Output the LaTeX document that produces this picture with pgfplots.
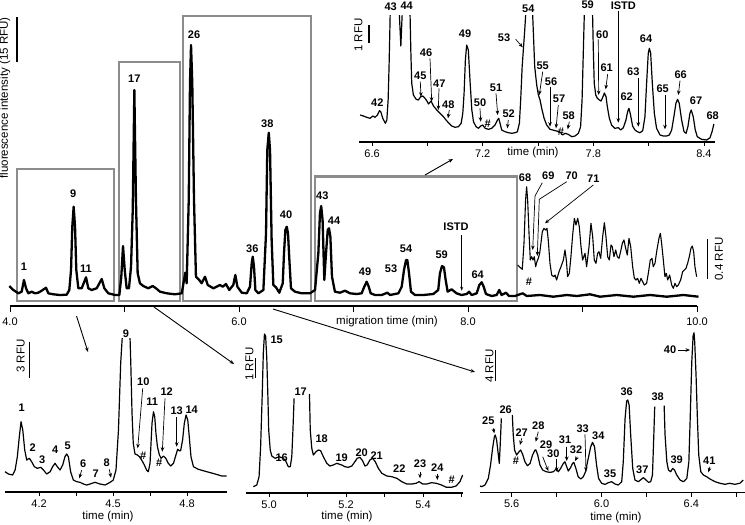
\documentclass[border=0pt]{standalone}
\usepackage{fontspec}
\setmainfont{Liberation Sans}
\usepackage{pgfplots}
\pgfplotsset{compat=1.18}
\usetikzlibrary{arrows.meta}
\definecolor{boxgray}{RGB}{140,140,140}
\tikzset{
  lab/.style={font=\fontsize{11}{12}\selectfont\bfseries, inner sep=0pt},
  txt/.style={font=\fontsize{11.5}{13}\selectfont, inner sep=0pt},
  ar/.style={-{Stealth[length=4.5pt,width=3.6pt]}, line width=0.7pt},
  bar/.style={line width=1.1pt},
}
\pgfplotsset{
  every axis/.append style={
    scale only axis, axis y line=none, axis x line*=bottom,
    x axis line style={-, line width=1.1pt},
    tick style={black, line width=0.8pt},
    tick align=outside,
    major tick length=4pt, minor tick length=4pt,
    xticklabel style={font=\fontsize{11}{12}\selectfont},
    clip=false,
  },
  trace/.style={black, line width=1.2pt, line join=round, no markers},
}
\begin{document}
\begin{tikzpicture}
\useasboundingbox (0pt,0pt) rectangle (745pt,-525pt);
% gray boxes
\begin{scope}[x=1pt,y=-1pt]
\draw[boxgray, line width=2.2pt] (17,169) rectangle (114,301);
\draw[boxgray, line width=2.2pt] (119,62) rectangle (180,301);
\draw[boxgray, line width=2.2pt] (183,16) rectangle (311,301);
\draw[boxgray, line width=2.2pt] (315,176.5) rectangle (517,301);
\end{scope}

% ===== main electropherogram =====
\begin{axis}[at={(10pt,-306pt)}, anchor=south west, width=687pt, height=300pt,
  xmin=4, xmax=10, ymin=0, ymax=300,
  x axis line style={-, line width=1.8pt}, major tick length=6pt,
  xtick={4,5,6,7,8,9,10}, xticklabels={4.0,,6.0,,8.0,,10.0},
  xticklabel style={yshift=-2pt}]
\addplot[trace, line width=2.3pt] coordinates {
(3.994,20) (4.029,16) (4.073,12.7) (4.102,14.3) (4.122,26) (4.140,17.7) (4.160,12.7) (4.189,14.3) (4.218,12.7) (4.247,13.3) (4.277,15.3) (4.314,18.3) (4.335,12.7) (4.378,11.7) (4.437,11) (4.495,11.3) (4.518,16) (4.533,36) (4.544,79.3) (4.556,99.3) (4.568,79.3) (4.579,36) (4.597,17.7) (4.626,17.7) (4.664,28.7) (4.684,17.7) (4.713,16) (4.757,17.7) (4.801,27) (4.824,17.7) (4.859,12.7) (4.917,11) (4.955,11) (4.972,29.3) (4.987,60) (5.002,36) (5.019,17.7) (5.039,17.7) (5.057,39.3) (5.072,96) (5.086,216) (5.100,106) (5.115,32.7) (5.135,22.7) (5.164,20) (5.208,17.7) (5.246,20) (5.275,17.7) (5.310,14.3) (5.369,12.7) (5.441,11.7) (5.500,12.7) (5.520,26) (5.531,33.3) (5.543,22.7) (5.561,106) (5.572,222.7) (5.581,261) (5.592,222.7) (5.607,106) (5.624,29.3) (5.653,26) (5.674,22.7) (5.703,29.3) (5.727,21) (5.776,17.7) (5.834,21) (5.858,19.3) (5.886,22) (5.915,16) (5.950,21) (5.968,31) (5.986,19.3) (6.024,13.3) (6.068,12.7) (6.096,19.3) (6.111,42.7) (6.120,49.3) (6.131,39.3) (6.143,16) (6.169,12.7) (6.213,16) (6.236,72.7) (6.247,156) (6.260,173.3) (6.271,156) (6.285,66) (6.300,21) (6.323,18.7) (6.352,13.3) (6.382,22.7) (6.393,52.7) (6.405,76) (6.417,79.3) (6.428,72.7) (6.440,46) (6.454,17.7) (6.489,14.3) (6.547,12.7) (6.620,12.7) (6.664,16) (6.693,52.7) (6.707,92.7) (6.718,100) (6.730,86) (6.745,26) (6.760,52.7) (6.775,76) (6.786,77.7) (6.798,69.3) (6.812,29.3) (6.838,14.3) (6.882,13.3) (6.926,15.3) (6.969,12.7) (7.027,12) (7.071,12.7) (7.094,19.3) (7.115,24.3) (7.133,19.3) (7.150,12.7) (7.188,11) (7.246,11) (7.296,13.3) (7.319,11) (7.392,12.7) (7.421,19.3) (7.441,36) (7.459,46) (7.470,46) (7.485,32.7) (7.502,14.3) (7.537,11) (7.610,11) (7.697,12) (7.740,16) (7.755,32.7) (7.773,40) (7.790,38.7) (7.805,26) (7.822,14.3) (7.857,16.7) (7.900,12.7) (7.944,11) (7.988,12) (8.009,14.3) (8.032,11) (8.076,12.7) (8.099,21) (8.120,23.7) (8.137,19.3) (8.157,12) (8.207,10) (8.250,11) (8.273,16) (8.293,11) (8.332,13.3) (8.358,10) (8.410,10) (8.478,12.7) (8.513,10) (8.629,11) (8.745,9.3) (8.862,11) (8.950,10) (9.066,11.7) (9.153,9.3) (9.299,11) (9.445,9.3) (9.590,11) (9.736,9.3) (9.882,11) (10.013,9.3)
};
% magnified late region (0.4 RFU)
\addplot[trace, line width=1.1pt] coordinates {
(8.434,41) (8.454,38.7) (8.474,36.7) (8.489,62.7) (8.503,106) (8.512,119.3) (8.521,106) (8.533,72.7) (8.544,46) (8.556,49.3) (8.568,46) (8.579,49.3) (8.591,39.3) (8.602,44.3) (8.614,47.7) (8.626,52.7) (8.637,62.7) (8.649,74.3) (8.664,77.7) (8.678,76) (8.690,77.7) (8.701,66) (8.716,42.7) (8.731,31) (8.748,29.3) (8.760,31) (8.774,26) (8.795,34.3) (8.812,39.3) (8.833,46) (8.847,56) (8.859,46) (8.870,29.3) (8.885,32.7) (8.899,49.3) (8.914,71) (8.929,87.7) (8.943,81) (8.958,87.7) (8.972,79.3) (8.987,59.3) (9.001,46) (9.022,52.7) (9.036,39.3) (9.057,59.3) (9.074,82.7) (9.089,69.3) (9.103,46) (9.118,42.7) (9.132,52.7) (9.144,54.3) (9.159,47.7) (9.176,69.3) (9.191,83.3) (9.205,69.3) (9.220,49.3) (9.234,46) (9.249,61) (9.260,59.3) (9.275,49.3) (9.290,56) (9.304,49.3) (9.319,47.7) (9.336,56) (9.348,62.7) (9.362,66) (9.377,57.7) (9.391,51) (9.406,67.7) (9.421,59.3) (9.438,39.3) (9.453,27.7) (9.467,26) (9.482,27.7) (9.496,22.7) (9.511,27.7) (9.525,24.3) (9.540,21) (9.560,22.7) (9.575,32.7) (9.592,46) (9.607,47.7) (9.618,39.3) (9.633,42.7) (9.650,56) (9.668,67.7) (9.680,72.7) (9.691,62.7) (9.706,46) (9.720,29.3) (9.732,32.7) (9.744,26) (9.761,31) (9.779,21) (9.793,17.7) (9.808,22.7) (9.822,19.3) (9.837,21) (9.857,26) (9.875,34.3) (9.889,36) (9.904,37.7) (9.918,42.7) (9.933,49.3) (9.947,57.7) (9.959,60) (9.971,54.3) (9.982,39.3) (9.997,29.3)
};
\end{axis}

% ===== top inset 6.6-8.4 =====
\begin{axis}[at={(359pt,-142pt)}, anchor=south west, width=356pt, height=127pt,
  xmin=6.529, xmax=8.46, ymin=0, ymax=127, clip=true,
  xtick={6.6,7.2,7.8,8.4}, xticklabels={6.6,7.2,7.8,8.4},
  minor xtick={6.9,7.5,8.1}]
\addplot[trace] coordinates {
(6.535,27) (6.553,26) (6.571,24.7) (6.589,23.7) (6.604,26) (6.616,24.7) (6.629,27) (6.640,31.3) (6.647,30.3) (6.658,23.7) (6.672,18.7) (6.680,22) (6.687,42) (6.692,75.3) (6.696,108.7) (6.698,127) (6.712,250) (6.735,190) (6.748,127) (6.756,96) (6.763,127) (6.785,230) (6.800,180) (6.806,127) (6.810,92) (6.815,58.7) (6.824,47) (6.839,42.7) (6.851,42) (6.864,45.3) (6.875,46) (6.887,43.7) (6.900,40.3) (6.906,38) (6.920,41) (6.933,36) (6.951,32) (6.969,28.7) (6.987,25.3) (7.001,22) (7.014,19.3) (7.032,16) (7.050,14.7) (7.068,15.3) (7.083,18.7) (7.092,28.7) (7.099,48.7) (7.106,82) (7.113,97) (7.122,92) (7.132,58.7) (7.141,32) (7.150,20.3) (7.164,15.3) (7.177,13.7) (7.189,16) (7.200,17) (7.213,13.7) (7.231,12.7) (7.249,13.7) (7.267,17) (7.280,22) (7.287,23.7) (7.294,18.7) (7.303,12) (7.321,10.3) (7.339,9.3) (7.357,8.7) (7.376,9.3) (7.388,10.3) (7.399,18.7) (7.406,42) (7.414,75.3) (7.421,93.7) (7.428,112) (7.433,127) (7.452,230) (7.471,127) (7.475,108.7) (7.482,75.3) (7.493,57) (7.502,47) (7.511,42) (7.520,33.7) (7.533,23.7) (7.547,17) (7.565,12.7) (7.601,11) (7.619,10) (7.634,7) (7.646,8.7) (7.664,7.7) (7.683,5.3) (7.701,6) (7.719,8.7) (7.731,15.3) (7.739,42) (7.746,92) (7.751,127) (7.773,240) (7.796,127) (7.800,92) (7.805,58.7) (7.813,47) (7.822,43.7) (7.833,42) (7.842,41) (7.851,44.7) (7.860,49) (7.869,45.3) (7.876,35.3) (7.887,23.7) (7.899,17) (7.917,13.7) (7.936,14.3) (7.948,12) (7.963,14.3) (7.977,22) (7.986,30.3) (7.993,33.7) (8.002,27) (8.013,16) (8.026,12) (8.039,10.3) (8.053,9.3) (8.068,11.3) (8.080,25.3) (8.089,58.7) (8.098,88.7) (8.104,93.7) (8.111,88.7) (8.120,58.7) (8.131,28.7) (8.143,13.7) (8.162,7) (8.180,6) (8.198,6) (8.212,7) (8.225,12) (8.237,25.3) (8.248,38.7) (8.257,42.7) (8.266,38.7) (8.279,22) (8.292,10.3) (8.303,8.7) (8.313,15.3) (8.324,28.7) (8.331,32) (8.342,25.3) (8.353,12) (8.364,5.3) (8.387,2.7) (8.415,2) (8.433,4.3) (8.444,10.3) (8.454,18)
};
\end{axis}

% ===== bottom inset 1 =====
\begin{axis}[at={(5pt,-492pt)}, anchor=south west, width=222pt, height=154pt,
  xmin=4.062, xmax=4.962, ymin=0, ymax=154, clip=true,
  xtick={4.2,4.5,4.8}, xticklabels={4.2,4.5,4.8}, minor xtick={4.35,4.65}]
\addplot[trace] coordinates {
(4.062,20.3) (4.076,18) (4.093,17) (4.103,22) (4.112,35.3) (4.120,55.3) (4.127,70.3) (4.134,62) (4.142,42) (4.150,32) (4.161,33.7) (4.170,30.3) (4.181,25.3) (4.193,23.7) (4.207,24.7) (4.218,22) (4.231,18) (4.245,20.3) (4.255,25.3) (4.265,28.7) (4.274,25.3) (4.285,22) (4.296,27) (4.305,35.3) (4.312,38) (4.319,35.3) (4.328,20.3) (4.339,12) (4.353,10.3) (4.366,9.7) (4.380,8) (4.393,7) (4.407,8) (4.427,9.7) (4.447,8) (4.468,7) (4.481,8.7) (4.492,10.3) (4.501,12) (4.512,22) (4.522,62) (4.531,128.7) (4.541,170) (4.554,260) (4.567,170) (4.572,128.7) (4.577,78.7) (4.582,48.7) (4.589,38) (4.599,37) (4.607,35.3) (4.616,32) (4.627,27) (4.636,22) (4.643,20.3) (4.650,28.7) (4.654,48.7) (4.658,68.7) (4.664,80.3) (4.669,75.3) (4.674,58.7) (4.680,45.3) (4.688,37) (4.695,33.7) (4.704,36) (4.714,33.7) (4.724,28.7) (4.734,26) (4.745,28.7) (4.755,37) (4.762,42.7) (4.769,41.3) (4.774,41.3) (4.782,52) (4.789,68.7) (4.796,77) (4.803,72) (4.809,55.3) (4.816,35.3) (4.826,25.3) (4.846,22.7) (4.880,20.3) (4.914,18) (4.941,16) (4.961,16)
};
\end{axis}

% ===== bottom inset 2 =====
\begin{axis}[at={(246pt,-493pt)}, anchor=south west, width=217pt, height=165pt,
  xmin=4.940, xmax=5.504, ymin=0, ymax=165,
  xtick={5.0,5.2,5.4}, xticklabels={5.0,5.2,5.4}, minor xtick={5.1,5.3,5.5}]
\addplot[trace] coordinates {
(4.959,6.3) (4.968,8) (4.974,16.3) (4.978,46.3) (4.982,96.3) (4.985,140) (4.988,159) (4.991,157) (4.994,135) (4.997,95) (4.999,63) (5.003,43) (5.007,37) (5.016,34.7) (5.026,36.3) (5.033,35.3) (5.042,33) (5.050,26.3) (5.055,26.3) (5.059,36.3) (5.062,63) (5.065,94.7)
};
\addplot[trace] coordinates {
(5.105,99) (5.107,63) (5.111,44.7) (5.115,38) (5.122,41.3) (5.128,43) (5.134,42.3) (5.141,36.3) (5.150,29.7) (5.158,27) (5.167,28) (5.176,29.7) (5.189,28) (5.197,26.3) (5.206,25.7) (5.215,27) (5.223,31.3) (5.229,34.7) (5.236,35.7) (5.243,32.3) (5.249,27) (5.255,28) (5.262,33) (5.269,34.7) (5.276,31.3) (5.284,24.7) (5.293,19.7) (5.306,17) (5.319,16.3) (5.332,14.7) (5.345,11.3) (5.358,9) (5.371,9) (5.382,9.7) (5.390,11.3) (5.399,9) (5.410,9) (5.422,10.3) (5.435,9.7) (5.448,8) (5.461,5.7) (5.474,5.7) (5.486,7) (5.496,11.3) (5.503,18)
};
\end{axis}

% ===== bottom inset 3 =====
\begin{axis}[at={(480pt,-492.7pt)}, anchor=south west, width=265pt, height=165pt,
  xmin=5.459, xmax=6.639, ymin=0, ymax=165,
  xtick={5.6,6.0,6.4}, xticklabels={5.6,6.0,6.4}, minor xtick={5.8,6.2,6.6}]
\addplot[trace] coordinates {
(5.459,6.7) (5.466,6) (5.481,7.7) (5.496,14.3) (5.506,27.7) (5.515,44.3) (5.523,56) (5.527,57.7) (5.533,52.7) (5.539,41) (5.545,29.3) (5.549,47.7) (5.554,74.3)
};
\addplot[trace] coordinates {
(5.603,77.7) (5.607,57.7) (5.613,42.7) (5.622,37.7) (5.633,41) (5.640,42.7) (5.649,38.3) (5.659,31) (5.670,27) (5.682,29.3) (5.693,37.7) (5.704,42.7) (5.708,42.7) (5.716,37.7) (5.726,27.7) (5.738,22.7) (5.753,21) (5.771,20.3) (5.786,21) (5.798,23.7) (5.808,21) (5.818,24.3) (5.830,29.3) (5.837,31) (5.845,26) (5.852,21.7) (5.862,25) (5.871,29.3) (5.877,30.3) (5.886,24.3) (5.896,16) (5.908,13.7) (5.919,16) (5.929,21) (5.941,34.3) (5.952,46) (5.960,50.3) (5.969,46) (5.978,27.7) (5.987,14.3) (6.001,9.3) (6.016,8.3) (6.030,10) (6.045,11) (6.060,8.7) (6.075,7.7) (6.090,11) (6.097,31) (6.105,74.4) (6.112,91.7) (6.117,92.7) (6.123,87.7) (6.130,57.7) (6.139,24.4) (6.149,12.7) (6.164,11) (6.179,13.7) (6.186,15) (6.194,13.7) (6.209,10.4) (6.219,11) (6.227,17.7) (6.233,57.7) (6.237,86)
};
\addplot[trace] coordinates {
(6.279,87) (6.283,57.7) (6.291,31) (6.298,22.7) (6.308,21) (6.317,24.3) (6.325,22.7) (6.335,17.7) (6.350,12.7) (6.365,11) (6.380,14.4) (6.389,31) (6.395,74.4) (6.402,131) (6.408,157) (6.412,160) (6.415,151) (6.421,117.7) (6.427,74.4) (6.433,37.7) (6.442,21) (6.454,17.7) (6.468,16) (6.483,13.7) (6.506,11) (6.528,9.4) (6.550,8.4) (6.571,9.4) (6.594,8.4) (6.616,9.4) (6.631,12.7)
};
\end{axis}

% ===== annotations =====
\begin{scope}[x=1pt,y=-1pt]
% y label and main scale bar
\node[txt, rotate=90] at (5,98) {fluorescence intensity (15 RFU)};
\draw[bar] (17,17) -- (17,62);
\node[txt] at (387,322) {migration time (min)};
% main labels
\node[lab] at (24,266.7) {1};
\node[lab] at (73.3,193.3) {9};
\node[lab] at (86,268.3) {11};
\node[lab] at (134.3,78.3) {17};
\node[lab] at (194,34.7) {26};
\node[lab] at (252.3,248.3) {36};
\node[lab] at (267.3,123.3) {38};
\node[lab] at (286,215) {40};
\node[lab] at (322.3,195.7) {43};
\node[lab] at (334,220.7) {44};
\node[lab] at (365,272) {49};
\node[lab] at (391,269) {53};
\node[lab] at (406,248.3) {54};
\node[lab] at (441.7,255) {59};
\node[lab] at (456,226.7) {ISTD};
\draw[line width=0.7pt, -{Stealth[length=4pt,width=3pt]}] (461.7,235) -- (461.7,290.7);
\node[lab] at (477.7,275) {64};
\node[lab] at (525,177.3) {68};
\node[lab] at (548.3,176) {69};
\node[lab] at (571.7,176) {70};
\node[lab] at (593.3,178.3) {71};
\node[lab] at (529,281.7) {\#};
\draw[ar] (542.3,182.7) -- (535,196) -- (532.7,250);
\draw[ar] (566.7,181.7) -- (539.3,199.3) -- (537.3,256);
\draw[ar] (593.3,185) -- (545,223.3);
\draw[bar] (707.7,239) -- (707.7,279);
\node[txt, rotate=90] at (719,259) {0.4 RFU};
% panel arrows
\draw[ar, line width=0.9pt] (76.5,316) -- (88,352);
\draw[ar, line width=0.9pt] (154,307) -- (234,364);
\draw[ar, line width=0.9pt] (273,309) -- (475,372);
\draw[ar, line width=0.9pt] (425,175) -- (453,159);
% top inset
\node[txt] at (533,153) {time (min)};
\draw[bar] (369,25) -- (369,43);
\node[txt, rotate=90] at (358.5,35) {1 RFU};
\node[lab] at (390.7,6.7) {43};
\node[lab] at (406.7,6) {44};
\node[lab] at (377.3,102.7) {42};
\node[lab] at (465,33.3) {49};
\node[lab] at (426,52.7) {46};
\node[lab] at (420.3,76) {45};
\node[lab] at (439.3,83.3) {47};
\node[lab] at (448.3,104.3) {48};
\node[lab] at (480,102.7) {50};
\node[lab] at (487.7,124) {\#};
\node[lab] at (496,87.7) {51};
\node[lab] at (508.7,114) {52};
\node[lab] at (504,37.3) {53};
\node[lab] at (528.3,8.3) {54};
\node[lab] at (542.7,66) {55};
\node[lab] at (551,82) {56};
\node[lab] at (559,99) {57};
\node[lab] at (568.7,116) {58};
\node[lab] at (561,131.7) {\#};
\node[lab] at (587.7,4.7) {59};
\node[lab] at (623.3,6) {ISTD};
\node[lab] at (602.3,34.3) {60};
\node[lab] at (606.7,67.7) {61};
\node[lab] at (646,39) {64};
\node[lab] at (633.3,71.7) {63};
\node[lab] at (626.7,96.7) {62};
\node[lab] at (662.7,88.7) {65};
\node[lab] at (680.7,75) {66};
\node[lab] at (696,100.7) {67};
\node[lab] at (712.7,116) {68};
\draw[ar] (420.3,81.7) -- (421,96.7);
\draw[ar] (430,58.3) -- (431.7,101.7);
\draw[ar] (439,88.3) -- (438.3,110);
\draw[ar] (449.3,110) -- (448,118.3);
\draw[ar] (480,108.3) -- (480.7,121.7);
\draw[ar] (496,93.3) -- (497.7,115);
\draw[ar] (508.3,120) -- (507.3,128.3);
\draw[ar] (515.7,39.3) -- (522.7,47.3);
\draw[ar] (542.7,71.7) -- (539.3,95);
\draw[ar] (550,87.3) -- (550,126.7);
\draw[ar] (558.3,105) -- (556,128.3);
\draw[ar] (569.3,121.7) -- (567.7,129.3);
\draw[ar] (598.3,39.3) -- (598.7,95);
\draw[ar] (607.7,74) -- (605.7,89.3);
\draw[ar] (618.3,10.7) -- (618.3,122.7);
\draw[ar] (638.3,78.3) -- (638.3,126.7);
\draw[ar] (665,95) -- (665,129.3);
\draw[ar] (680,80.7) -- (678.3,95);
% inset 1
\node[txt] at (108,517) {time (min)};
\draw[bar] (29.3,341.7) -- (29.3,378.3);
\node[txt, rotate=90] at (20.7,356) {3 RFU};
\node[lab] at (21.7,407.3) {1};
\node[lab] at (32.7,447.3) {2};
\node[lab] at (42.3,459.3) {3};
\node[lab] at (55.3,449.3) {4};
\node[lab] at (67.7,446) {5};
\node[lab] at (83.3,463.3) {6};
\node[lab] at (95.7,473.3) {7};
\node[lab] at (106.7,462.7) {8};
\node[lab] at (126,333.3) {9};
\node[lab] at (143.3,381.7) {10};
\node[lab] at (152.3,401.7) {11};
\node[lab] at (166.7,391.7) {12};
\node[lab] at (176.7,411) {13};
\node[lab] at (191.7,409.3) {14};
\node[lab] at (143.3,456) {\#};
\node[lab] at (159.3,462.7) {\#};
\draw[ar] (81.7,470) -- (79.3,478.3);
\draw[ar] (109.3,469.3) -- (111,477.7);
\draw[ar] (142.7,388.3) -- (137.7,448.3);
\draw[ar] (165,398.3) -- (162.3,451.7);
\draw[ar] (176.7,417.3) -- (176.7,446.7);
% inset 2
\node[txt] at (347,517) {time (min)};
\draw[bar] (255.5,358.3) -- (255.5,378.3);
\node[txt, rotate=90] at (249.5,364) {1 RFU};
\node[lab] at (276.7,339.3) {15};
\node[lab] at (281.7,457.3) {16};
\node[lab] at (300.7,391.7) {17};
\node[lab] at (321.7,438.3) {18};
\node[lab] at (341.7,457.7) {19};
\node[lab] at (361.7,452.7) {20};
\node[lab] at (376.7,456) {21};
\node[lab] at (399.3,468.3) {22};
\node[lab] at (420,464) {23};
\node[lab] at (437.3,467.3) {24};
\node[lab] at (451.7,479.3) {\#};
\draw[ar] (420,471.7) -- (420,478.3);
\draw[ar] (437.3,474.3) -- (437.3,480);
% inset 3
\node[txt] at (616,517.5) {time (min)};
\draw[bar] (495.5,350) -- (495.5,381);
\node[txt, rotate=90] at (489.5,366) {4 RFU};
\node[lab] at (488.3,421) {25};
\node[lab] at (505.7,410) {26};
\node[lab] at (521.7,432.3) {27};
\node[lab] at (538.3,425.7) {28};
\node[lab] at (516,461) {\#};
\node[lab] at (546,444.3) {29};
\node[lab] at (553.3,453.3) {30};
\node[lab] at (565,440) {31};
\node[lab] at (576,450) {32};
\node[lab] at (582.7,429) {33};
\node[lab] at (598.3,435.7) {34};
\node[lab] at (610,473.3) {35};
\node[lab] at (626.7,391.7) {36};
\node[lab] at (642.3,470) {37};
\node[lab] at (657.7,396.7) {38};
\node[lab] at (676.7,459.3) {39};
\node[lab] at (670,350) {40};
\node[lab] at (709.3,461) {41};
\draw[ar] (493.3,428.3) -- (494.3,433.3);
\draw[ar] (521.7,438.3) -- (520,445);
\draw[ar] (538.3,431.7) -- (535.7,441.7);
\draw[ar] (542.7,456.7) -- (548.3,471);
\draw[ar] (556.7,459) -- (556.7,471.7);
\draw[ar] (566.7,446.7) -- (566.7,461);
\draw[ar] (577.3,456.7) -- (575,461);
\draw[ar] (585,434.3) -- (586,471.7);
\draw[ar] (678.3,350) -- (690,350);
\draw[ar] (710,466.7) -- (708.3,472.3);
\end{scope}
\end{tikzpicture}
\end{document}
